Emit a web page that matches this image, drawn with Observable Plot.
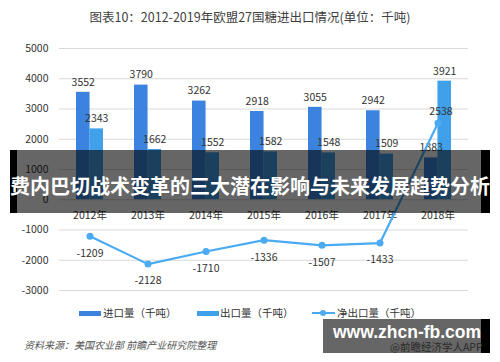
<!DOCTYPE html>
<html><head><meta charset="utf-8">
<script src="https://cdn.jsdelivr.net/npm/d3@7"></script>
<script src="https://cdn.jsdelivr.net/npm/@observablehq/plot@0.6"></script>
<style>
html,body{margin:0;padding:0;background:#fff;}
#wrap{position:relative;width:500px;height:362px;overflow:hidden;font-family:"Noto Sans CJK SC","Noto Sans",sans-serif;}
#wrap svg{position:absolute;left:0;top:0;}
.abs{position:absolute;white-space:nowrap;}
</style></head>
<body><div id="wrap"></div>
<script>
const years = ["2012年","2013年","2014年","2015年","2016年","2017年","2018年"];
const imports = [3552,3790,3262,2918,3055,2942,1383];
const exports = [2343,1662,1552,1582,1548,1509,3921];
const netExports = [-1209,-2128,-1710,-1336,-1507,-1433,2538];
const yTicks = [-3000,-2000,-1000,0,1000,2000,3000,4000,5000];
const seriesNames = ["进口量（千吨）","出口量（千吨）","净出口量（千吨）"];
const title = "图表10：2012-2019年欧盟27国糖进出口情况(单位：千吨)";
const source = "资料来源：美国农业部 前瞻产业研究院整理";
const banner = "费内巴切战术变革的三大潜在影响与未来发展趋势分析";

const cImp = "#3b83de", cExp = "#41a0ea", cNet = "#4aabf2";
const rows = years.map((y,i)=>({year:y, imp:imports[i], exp:exports[i], net:netExports[i]}));
const half = 58.43*0.46/2;

const chart = Plot.plot({
  width:500, height:362,
  marginTop:48, marginBottom:72, marginLeft:59, marginRight:32,
  style:{fontFamily:"'Noto Sans CJK SC','Noto Sans',sans-serif", fontSize:"10.5px", color:"#333", background:"transparent"},
  x:{type:"band", domain:years, paddingInner:0.54, paddingOuter:0.27, axis:null},
  y:{domain:[-3000,5000], axis:null},
  marks:[
    Plot.gridY(yTicks,{stroke:"#d9d9d9", strokeOpacity:1}),
    Plot.axisY(yTicks,{tickSize:0, tickPadding:11, tickFormat:d=>String(d), fill:"#333", label:null}),
    Plot.barY(rows,{x:"year", y:"imp", fill:cImp, insetRight:half}),
    Plot.barY(rows,{x:"year", y:"exp", fill:cExp, insetLeft:half}),
    Plot.text(rows,{x:"year", y:"imp", text:d=>String(d.imp), dx:-half/2, dy:-10, fill:"#333"}),
    Plot.text(rows,{x:"year", y:"exp", text:d=>String(d.exp), dx:half/2, dy:-10, fill:"#333"}),
    Plot.text(years,{x:d=>d, y:()=>0, text:d=>d, dy:16, fill:"#333"}),
    Plot.line(rows,{x:"year", y:"net", stroke:cNet, strokeWidth:2.2}),
    Plot.dot(rows,{x:"year", y:"net", fill:cNet, r:3.5}),
    Plot.text(rows.filter(d=>d.net<0),{x:"year", y:"net", text:d=>String(d.net), dy:17, fill:"#333"}),
    Plot.text(rows.filter(d=>d.net>=0),{x:"year", y:"net", text:d=>String(d.net), dy:-11, dx:3, fill:"#333"})
  ]
});
const wrap = document.getElementById("wrap");
wrap.appendChild(chart);

function add(html, css){const d=document.createElement("div");d.className="abs";d.style.cssText=css;d.innerHTML=html;wrap.appendChild(d);return d;}
// title
add(title,"left:0;width:500px;top:7px;text-align:center;font-size:12.5px;color:#404040;");
// legend
add("","left:79px;top:311px;width:22px;height:5px;background:"+cImp+";");
add(seriesNames[0],"left:103px;top:305px;font-size:10.5px;color:#333;");
add("","left:197px;top:311px;width:22px;height:5px;background:"+cExp+";");
add(seriesNames[1],"left:220px;top:305px;font-size:10.5px;color:#333;");
add("","left:312px;top:312px;width:23px;height:2px;background:"+cNet+";");
add("","left:320px;top:310px;width:6px;height:6px;border-radius:50%;background:"+cNet+";");
add(seriesNames[2],"left:337px;top:305px;font-size:10.5px;color:#333;");
// source
add(source,"left:24px;top:337px;font-size:10px;color:#555;font-style:italic;");
// banner overlay
add("","left:17px;top:150px;width:464px;height:63px;background:rgba(0,0,0,0.6);");
add("","left:10px;top:150px;width:7px;height:63px;background:#000;");
add("","left:481px;top:150px;width:9px;height:63px;background:#000;");
add(banner,"left:0;width:500px;top:172px;text-align:center;font-size:20px;line-height:28px;font-weight:bold;color:#fff;");
// watermark box
add("","left:323px;top:319px;width:158px;height:34px;background:rgba(0,0,0,0.6);");
add("","left:481px;top:319px;width:9px;height:34px;background:#000;");
add("@前瞻经济学人APP","left:390px;top:339px;font-size:10.5px;color:#2a2a2a;");
add("www.zhcn-fb.com","left:333px;top:322px;font-family:'Liberation Sans',Arial,sans-serif;font-size:17.5px;font-weight:bold;color:#fff;");
</script>
</body></html>
